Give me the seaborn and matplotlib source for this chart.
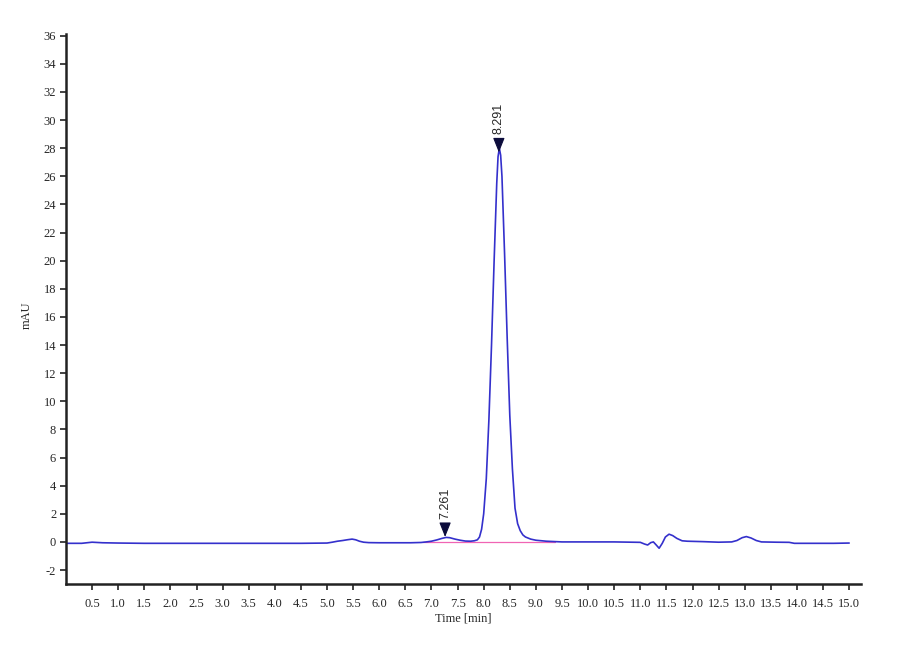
import matplotlib

matplotlib.use("Agg")
import matplotlib.pyplot as plt
import numpy as np
import pandas as pd
import seaborn as sns

# chromatogram trace (time in min, signal in mAU)
time_min = [
    0.00, 0.30, 0.50, 0.70, 1.00, 1.50, 2.00, 2.50, 3.00, 3.50, 4.00, 4.50,
    5.00, 5.10, 5.20, 5.30, 5.40, 5.48, 5.55, 5.62, 5.70, 5.80, 6.00, 6.30,
    6.60, 6.80, 6.90, 7.00, 7.10, 7.20, 7.28, 7.35, 7.45, 7.55, 7.65, 7.75,
    7.82, 7.88, 7.92, 7.96, 8.00, 8.05, 8.10, 8.15, 8.20, 8.25, 8.275, 8.30,
    8.325, 8.35, 8.40, 8.45, 8.50, 8.55, 8.60, 8.65, 8.70, 8.75, 8.80, 8.90,
    9.00, 9.20, 9.50, 10.00, 10.50, 11.00, 11.08, 11.14, 11.20, 11.25, 11.30,
    11.36, 11.42, 11.48, 11.55, 11.62, 11.70, 11.80, 11.90, 12.20, 12.50,
    12.75, 12.85, 12.95, 13.03, 13.12, 13.22, 13.32, 13.60, 13.85, 13.95,
    14.30, 14.70, 15.00,
]
signal_mau = [
    -0.10, -0.10, -0.02, -0.06, -0.08, -0.10, -0.10, -0.10, -0.10, -0.10, -0.10, -0.10,
    -0.08, -0.02, 0.05, 0.10, 0.16, 0.20, 0.15, 0.05, -0.02, -0.05, -0.06, -0.06,
    -0.06, -0.04, 0.00, 0.05, 0.14, 0.25, 0.32, 0.30, 0.20, 0.12, 0.06, 0.05,
    0.08, 0.15, 0.35, 0.90, 2.00, 4.50, 8.70, 14.00, 20.00, 25.50, 27.40, 28.00,
    27.50, 26.00, 20.50, 14.50, 9.00, 5.20, 2.40, 1.30, 0.80, 0.50, 0.35, 0.20,
    0.12, 0.05, 0.00, 0.00, 0.00, -0.03, -0.15, -0.22, -0.05, 0.00, -0.20,
    -0.45, -0.10, 0.35, 0.55, 0.45, 0.25, 0.08, 0.05, 0.02, -0.02,
    0.00, 0.10, 0.30, 0.38, 0.28, 0.10, 0.00, -0.02, -0.03, -0.10,
    -0.10, -0.10, -0.08,
]

# integration baseline under the main peaks
baseline_t = [6.83, 9.36]
baseline_y = [0.0, 0.0]

# retention time labels
peak_times = [7.261, 8.291]
peak_heights = [0.35, 27.7]
peak_labels = ["7.261", "8.291"]

x_ticks = [round(0.5 * i, 1) for i in range(1, 31)]
y_ticks = list(range(-2, 37, 2))

sns.set_theme(style="white")
plt.rcParams["font.family"] = ["Liberation Serif", "DejaVu Serif"]
plt.rcParams["axes.unicode_minus"] = False

fig = plt.figure(figsize=(9, 6.6), dpi=100)
ax = fig.add_axes([0.0733, 0.115, 0.883, 0.833])

trace = pd.DataFrame({"time": time_min, "signal": signal_mau})
sns.lineplot(data=trace, x="time", y="signal", ax=ax, color="#3430cc",
             linewidth=1.2, estimator=None, sort=False)
sns.lineplot(x=baseline_t, y=baseline_y, ax=ax, color="#f064b4",
             linewidth=0.9, estimator=None, zorder=1)

for t, h, lab in zip(peak_times, peak_heights, peak_labels):
    ax.annotate(
        lab,
        xy=(t, h),
        xytext=(0, 13),
        textcoords="offset points",
        rotation=90,
        ha="center",
        va="bottom",
        fontsize=9,
        family=["Liberation Sans", "DejaVu Sans"],
        arrowprops=dict(arrowstyle="-|>,head_length=1.0,head_width=0.4",
                        color="#0c0c3c", lw=0.8, shrinkA=1, shrinkB=0),
    )

ax.set_xlim(0, 15.22)
ax.set_ylim(-3, 36.1)
ax.set_xticks(x_ticks)
ax.set_xticklabels([f"{v:.1f}" for v in x_ticks])
ax.set_yticks(y_ticks)
ax.tick_params(axis="both", labelsize=9, length=4, width=1.2,
               color="#222222", direction="out", pad=3,
               bottom=True, left=True)
ax.tick_params(axis="x", pad=6)
ax.set_xlabel("Time [min]", fontsize=9, labelpad=2)
ax.set_ylabel("mAU", fontsize=9)
ax.yaxis.set_label_coords(-0.042, 0.49)

for side in ["top", "right"]:
    ax.spines[side].set_visible(False)
for side in ["left", "bottom"]:
    ax.spines[side].set_color("#222222")
    ax.spines[side].set_linewidth(1.8)

fig.savefig("out.png", dpi=100)
